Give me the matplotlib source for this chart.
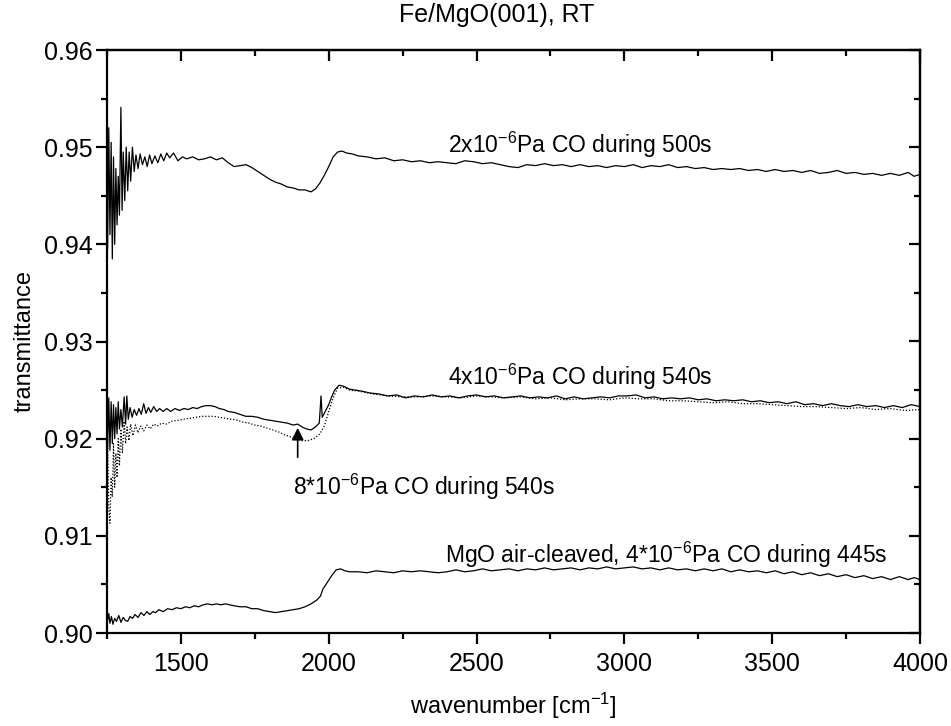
import matplotlib
matplotlib.use("Agg")
import matplotlib.pyplot as plt
from matplotlib.ticker import MultipleLocator, FormatStrFormatter

plt.rcParams['font.family'] = ['Liberation Sans', 'DejaVu Sans']
plt.rcParams['mathtext.fontset'] = 'custom'
plt.rcParams['mathtext.rm'] = 'Liberation Sans'
plt.rcParams['mathtext.it'] = 'Liberation Sans:italic'
plt.rcParams['mathtext.bf'] = 'Liberation Sans:bold'

# ---- data ----
co2_x = [1252, 1256, 1260, 1264, 1268, 1272, 1276, 1280, 1284, 1288, 1292, 1297, 1301, 1305, 1310, 1315,
         1320, 1325, 1330, 1336, 1342, 1348, 1355, 1362, 1370, 1378, 1386, 1394, 1402, 1412, 1422, 1432,
         1442, 1452, 1462, 1475, 1490, 1505, 1520, 1540, 1560, 1580, 1600, 1620, 1640, 1660, 1680, 1700,
         1720, 1740, 1760, 1780, 1800, 1820, 1840, 1860, 1880, 1900, 1920, 1940, 1955, 1970, 1985, 2000,
         2015, 2030, 2045, 2060, 2080, 2100, 2130, 2160, 2190, 2220, 2250, 2280, 2310, 2340, 2370, 2400,
         2430, 2460, 2490, 2520, 2550, 2580, 2610, 2640, 2670, 2700, 2730, 2760, 2790, 2820, 2850, 2880,
         2910, 2940, 2970, 3000, 3030, 3060, 3090, 3120, 3150, 3180, 3210, 3240, 3270, 3300, 3330, 3360,
         3390, 3420, 3450, 3480, 3510, 3540, 3570, 3600, 3630, 3660, 3690, 3720, 3750, 3780, 3810, 3840,
         3870, 3900, 3930, 3960, 3980, 4000]
co2_y = [0.9395, 0.9520, 0.9410, 0.9505, 0.9385, 0.9490, 0.9400, 0.9478, 0.9420, 0.9470, 0.9430, 0.9541,
         0.9435, 0.9495, 0.9445, 0.9500, 0.9455, 0.9495, 0.9465, 0.9500, 0.9475, 0.9492, 0.9478, 0.9493,
         0.9482, 0.9490, 0.9480, 0.9492, 0.9483, 0.9491, 0.9484, 0.9493, 0.9486, 0.9494, 0.9489, 0.9494,
         0.9486, 0.9490, 0.9488, 0.9490, 0.9487, 0.9488, 0.9490, 0.9487, 0.9489, 0.9484, 0.9480, 0.9481,
         0.9482, 0.9479, 0.9475, 0.9471, 0.9467, 0.9464, 0.9462, 0.9459, 0.9458, 0.9456, 0.9456, 0.9454,
         0.9457, 0.9463, 0.9471, 0.9480, 0.9490, 0.9495, 0.9496, 0.9494, 0.9493, 0.9491, 0.9490, 0.9488,
         0.9489, 0.9486, 0.9487, 0.9485, 0.9486, 0.9484, 0.9485, 0.9484, 0.9483, 0.9486, 0.9485, 0.9483,
         0.9484, 0.9482, 0.9480, 0.9479, 0.9482, 0.9481, 0.9483, 0.9481, 0.9482, 0.9480, 0.9482, 0.9480,
         0.9481, 0.9479, 0.9481, 0.9480, 0.9482, 0.9479, 0.9481, 0.9480, 0.9482, 0.9479, 0.9480, 0.9478,
         0.9479, 0.9477, 0.9478, 0.9477, 0.9478, 0.9476, 0.9477, 0.9475, 0.9477, 0.9475, 0.9476, 0.9474,
         0.9476, 0.9473, 0.9474, 0.9476, 0.9473, 0.9474, 0.9472, 0.9473, 0.9471, 0.9473, 0.9471, 0.9474,
         0.9470, 0.9472]

co4_x = [1252, 1256, 1260, 1264, 1268, 1272, 1276, 1280, 1284, 1288, 1292, 1297, 1302, 1308, 1313, 1317,
         1322, 1328, 1335, 1342, 1350, 1358, 1366, 1374, 1382, 1390, 1398, 1408, 1418, 1428, 1440, 1452,
         1465, 1480, 1495, 1510, 1525, 1540, 1555, 1570, 1585, 1600, 1615, 1630, 1645, 1660, 1680, 1700,
         1720, 1740, 1760, 1780, 1800, 1820, 1840, 1860, 1880, 1895, 1910, 1925, 1940, 1955, 1968, 1974,
         1978, 1990, 2000, 2010, 2020, 2035, 2050, 2070, 2090, 2110, 2140, 2170, 2200, 2230, 2260, 2290,
         2320, 2350, 2380, 2410, 2440, 2470, 2500, 2530, 2560, 2590, 2620, 2650, 2680, 2710, 2740, 2770,
         2800, 2830, 2860, 2890, 2920, 2950, 2980, 3010, 3040, 3070, 3100, 3130, 3160, 3190, 3220, 3250,
         3280, 3310, 3340, 3370, 3400, 3430, 3460, 3490, 3520, 3550, 3580, 3610, 3640, 3670, 3700, 3730,
         3760, 3790, 3820, 3850, 3880, 3910, 3940, 3970, 4000]
co4_y = [0.9190, 0.9242, 0.9188, 0.9238, 0.9195, 0.9235, 0.9200, 0.9232, 0.9205, 0.9238, 0.9210, 0.9230,
         0.9212, 0.9243, 0.9215, 0.9244, 0.9220, 0.9232, 0.9222, 0.9230, 0.9224, 0.9231, 0.9225, 0.9236,
         0.9226, 0.9232, 0.9227, 0.9233, 0.9228, 0.9231, 0.9228, 0.9231, 0.9228, 0.9231, 0.9229, 0.9231,
         0.9230, 0.9232, 0.9231, 0.9233, 0.9234, 0.9234, 0.9233, 0.9231, 0.9230, 0.9228, 0.9227, 0.9225,
         0.9223, 0.9223, 0.9222, 0.9220, 0.9219, 0.9218, 0.9217, 0.9216, 0.9214, 0.9215, 0.9212, 0.9210,
         0.9209, 0.9212, 0.9216, 0.9244, 0.9222, 0.9229, 0.9235, 0.9243, 0.9250, 0.9255, 0.9254, 0.9251,
         0.9250, 0.9249, 0.9247, 0.9246, 0.9244, 0.9245, 0.9242, 0.9244, 0.9243, 0.9245, 0.9243, 0.9244,
         0.9242, 0.9244, 0.9245, 0.9243, 0.9244, 0.9242, 0.9243, 0.9244, 0.9242, 0.9243, 0.9242, 0.9244,
         0.9241, 0.9243, 0.9241, 0.9242, 0.9243, 0.9242, 0.9244, 0.9244, 0.9245, 0.9242, 0.9243, 0.9241,
         0.9242, 0.9241, 0.9242, 0.9240, 0.9241, 0.9239, 0.9240, 0.9239, 0.9240, 0.9238, 0.9239, 0.9237,
         0.9238, 0.9236, 0.9238, 0.9235, 0.9236, 0.9234, 0.9236, 0.9234, 0.9233, 0.9235, 0.9233, 0.9234,
         0.9232, 0.9234, 0.9232, 0.9235, 0.9233]

co8_x = [1252, 1256, 1260, 1264, 1268, 1272, 1276, 1280, 1284, 1288, 1292, 1297, 1302, 1308, 1313, 1318,
         1324, 1330, 1338, 1346, 1355, 1364, 1374, 1385, 1396, 1408, 1420, 1435, 1450, 1470, 1490, 1510,
         1530, 1550, 1570, 1590, 1610, 1630, 1650, 1670, 1690, 1710, 1730, 1750, 1770, 1790, 1810, 1830,
         1850, 1870, 1890, 1910, 1930, 1950, 1970, 1985, 2000, 2015, 2030, 2050, 2070, 2100, 2150, 2200,
         2250, 2300, 2350, 2400, 2450, 2500, 2550, 2600, 2650, 2700, 2750, 2800, 2850, 2900, 2950, 3000,
         3050, 3100, 3150, 3200, 3250, 3300, 3350, 3400, 3450, 3500, 3550, 3600, 3650, 3700, 3750, 3800,
         3850, 3900, 3950, 4000]
co8_y = [0.9200, 0.9130, 0.9113, 0.9160, 0.9140, 0.9195, 0.9150, 0.9185, 0.9160, 0.9200, 0.9172, 0.9210,
         0.9185, 0.9218, 0.9195, 0.9212, 0.9198, 0.9215, 0.9203, 0.9214, 0.9206, 0.9213, 0.9208, 0.9214,
         0.9210, 0.9215, 0.9213, 0.9216, 0.9215, 0.9218, 0.9219, 0.9220, 0.9221, 0.9222, 0.9223, 0.9223,
         0.9223, 0.9222, 0.9221, 0.9220, 0.9219, 0.9217, 0.9216, 0.9214, 0.9213, 0.9211, 0.9209, 0.9207,
         0.9204, 0.9202, 0.9200, 0.9198, 0.9198, 0.9200, 0.9205, 0.9213, 0.9228, 0.9242, 0.9252, 0.9253,
         0.9250, 0.9249, 0.9246, 0.9244, 0.9243, 0.9243, 0.9244, 0.9243, 0.9242, 0.9244, 0.9243, 0.9242,
         0.9243, 0.9241, 0.9242, 0.9240, 0.9241, 0.9241, 0.9240, 0.9242, 0.9241, 0.9241, 0.9239, 0.9239,
         0.9238, 0.9237, 0.9238, 0.9236, 0.9236, 0.9235, 0.9234, 0.9233, 0.9233, 0.9232, 0.9231, 0.9232,
         0.9230, 0.9231, 0.9229, 0.9230]

mgo_x = [1252, 1256, 1260, 1265, 1270, 1276, 1282, 1290, 1297, 1305, 1312, 1320, 1328, 1336, 1345, 1355,
         1365, 1375, 1385, 1395, 1405, 1415, 1425, 1440, 1455, 1470, 1485, 1500, 1515, 1530, 1545, 1560,
         1575, 1590, 1605, 1620, 1635, 1650, 1665, 1680, 1700, 1720, 1740, 1760, 1780, 1800, 1820, 1840,
         1860, 1880, 1900, 1920, 1940, 1960, 1972, 1980, 1995, 2010, 2025, 2040, 2055, 2070, 2100, 2130,
         2160, 2190, 2220, 2250, 2280, 2310, 2340, 2370, 2400, 2430, 2460, 2490, 2520, 2550, 2580, 2610,
         2640, 2670, 2700, 2730, 2760, 2790, 2820, 2850, 2880, 2910, 2940, 2970, 3000, 3030, 3060, 3090,
         3120, 3150, 3180, 3210, 3240, 3270, 3300, 3330, 3360, 3390, 3420, 3450, 3480, 3510, 3540, 3570,
         3600, 3630, 3660, 3690, 3720, 3750, 3780, 3810, 3840, 3870, 3900, 3930, 3960, 3980, 4000]
mgo_y = [0.9013, 0.9020, 0.9010, 0.9017, 0.9009, 0.9015, 0.9012, 0.9018, 0.9011, 0.9016, 0.9013, 0.9012,
         0.9017, 0.9015, 0.9019, 0.9016, 0.9021, 0.9018, 0.9022, 0.9019, 0.9022, 0.9021, 0.9024, 0.9022,
         0.9025, 0.9024, 0.9026, 0.9025, 0.9027, 0.9026, 0.9028, 0.9027, 0.9029, 0.9030, 0.9029, 0.9030,
         0.9029, 0.9030, 0.9029, 0.9028, 0.9027, 0.9027, 0.9025, 0.9025, 0.9023, 0.9022, 0.9021, 0.9022,
         0.9023, 0.9024, 0.9025, 0.9027, 0.9030, 0.9034, 0.9038, 0.9045, 0.9052, 0.9059, 0.9065, 0.9066,
         0.9064, 0.9063, 0.9063, 0.9062, 0.9064, 0.9063, 0.9062, 0.9064, 0.9063, 0.9064, 0.9063, 0.9062,
         0.9063, 0.9065, 0.9063, 0.9064, 0.9066, 0.9064, 0.9065, 0.9066, 0.9064, 0.9066, 0.9065, 0.9067,
         0.9065, 0.9066, 0.9067, 0.9065, 0.9067, 0.9066, 0.9068, 0.9066, 0.9067, 0.9068, 0.9066, 0.9067,
         0.9065, 0.9067, 0.9065, 0.9066, 0.9064, 0.9066, 0.9064, 0.9066, 0.9063, 0.9065, 0.9063, 0.9064,
         0.9062, 0.9064, 0.9061, 0.9063, 0.9060, 0.9062, 0.9059, 0.9061, 0.9058, 0.9060, 0.9057, 0.9059,
         0.9056, 0.9058, 0.9055, 0.9058, 0.9055, 0.9057, 0.9055]

title = "Fe/MgO(001), RT"
xlabel = "wavenumber [cm$^{-1}$]"
ylabel = "transmittance"
lab_co2 = "2x10$^{-6}$Pa CO during 500s"
lab_co4 = "4x10$^{-6}$Pa CO during 540s"
lab_co8 = "8*10$^{-6}$Pa CO during 540s"
lab_mgo = "MgO air-cleaved, 4*10$^{-6}$Pa CO during 445s"

# ---- figure ----
fig = plt.figure(figsize=(9.51, 7.26), dpi=100)
ax = fig.add_axes([107/951, (726-633)/726, (920-107)/951, (633-50)/726])

lw = 0.9
ax.plot(co2_x, co2_y, color='black', lw=lw)
ax.plot(co8_x, co8_y, color='black', lw=lw, linestyle=(0, (1, 1.5)))
ax.plot(co4_x, co4_y, color='black', lw=lw)
ax.plot(mgo_x, mgo_y, color='black', lw=lw)

ax.set_xlim(1250, 4000)
ax.set_ylim(0.90, 0.96)
ax.xaxis.set_major_locator(MultipleLocator(500))
ax.xaxis.set_minor_locator(MultipleLocator(250))
ax.yaxis.set_major_locator(MultipleLocator(0.01))
ax.yaxis.set_minor_locator(MultipleLocator(0.005))
ax.yaxis.set_major_formatter(FormatStrFormatter('%.2f'))

fs = 18
for s in ax.spines.values():
    s.set_linewidth(1.6)
ax.tick_params(which='both', direction='out', width=1.6, labelsize=fs)
ax.tick_params(which='major', length=8)
ax.tick_params(which='minor', length=4.5)
ax.tick_params(axis='x', which='major', pad=6)
ax.tick_params(axis='y', which='major', pad=2)

# mirrored ticks on top / right pointing inward
secx = ax.secondary_xaxis('top')
secx.xaxis.set_major_locator(MultipleLocator(500))
secx.xaxis.set_minor_locator(MultipleLocator(250))
secx.tick_params(which='both', direction='in', width=1.6, labeltop=False)
secx.tick_params(which='major', length=8)
secx.tick_params(which='minor', length=4.5)
secx.spines['top'].set_linewidth(1.6)
secy = ax.secondary_yaxis('right')
secy.yaxis.set_major_locator(MultipleLocator(0.01))
secy.yaxis.set_minor_locator(MultipleLocator(0.005))
secy.tick_params(which='both', direction='in', width=1.6, labelright=False)
secy.tick_params(which='major', length=8)
secy.tick_params(which='minor', length=4.5)
secy.spines['right'].set_linewidth(1.6)

ax.set_xlabel(xlabel, fontsize=17, labelpad=10)
ax.set_ylabel(ylabel, fontsize=17, labelpad=6)
fig.text(497/951, 1 - 15/726, title, ha='center', va='center', fontsize=18)

afs = 16.5
ax.text(2405, 0.9494, lab_co2, fontsize=afs, ha='left', va='baseline')
ax.text(2405, 0.92555, lab_co4, fontsize=afs, ha='left', va='baseline')
ax.text(1878, 0.91422, lab_co8, fontsize=afs, ha='left', va='baseline')
ax.text(2392, 0.90722, lab_mgo, fontsize=afs, ha='left', va='baseline')
ax.annotate('', xy=(1895, 0.9214), xytext=(1895, 0.9178),
            arrowprops=dict(arrowstyle='-|>', color='black', lw=1.2, mutation_scale=18))

fig.savefig('out.png', dpi=100)
